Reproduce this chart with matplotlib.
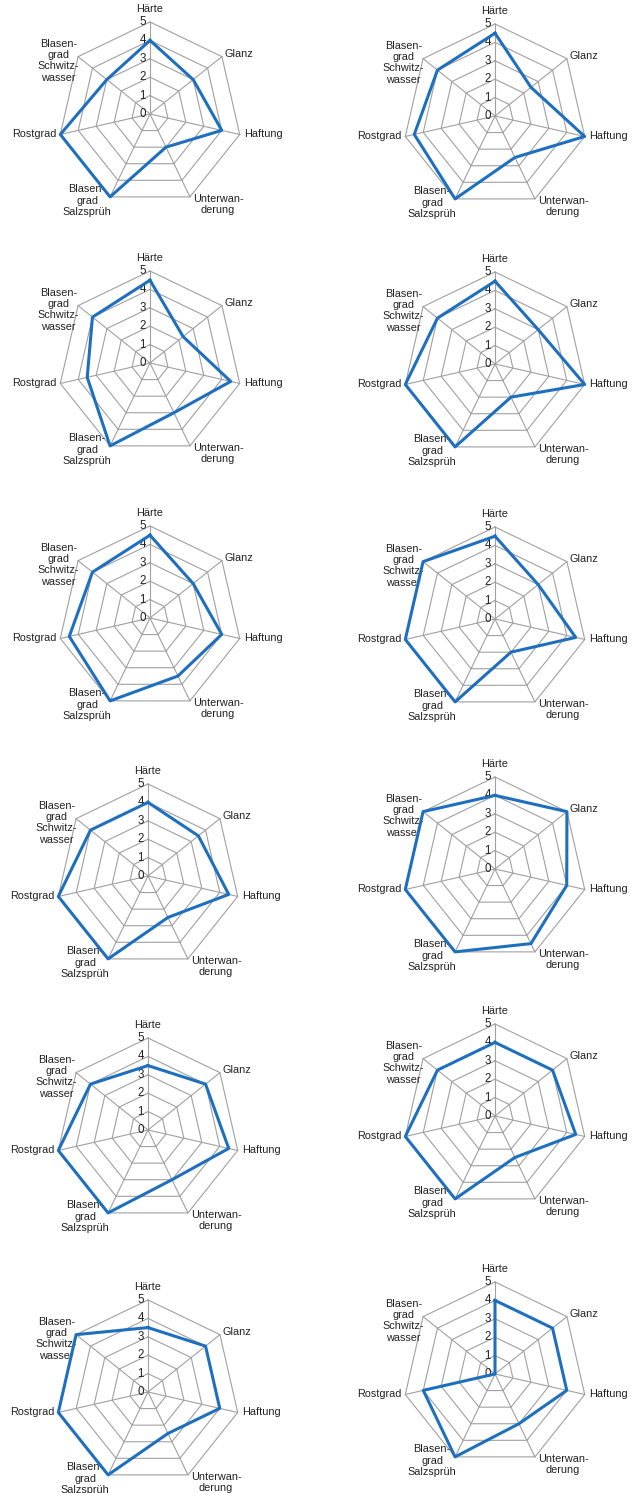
import numpy as np
import matplotlib
matplotlib.use('Agg')
import matplotlib.pyplot as plt

################################################################################

kriterien = ['Härte', 'Glanz', 'Haftung', 'Unterwan-\nderung',
             'Blasen-\ngrad\nSalzsprüh', 'Rostgrad', 'Blasen-\ngrad\nSchwitz-\nwasser']
skala = [0, 1, 2, 3, 4, 5]

probe_01 = [4.0, 3.0, 4.0, 2.0, 5.0, 5.0, 3.0]
probe_02 = [4.5, 2.5, 5.0, 2.5, 5.0, 4.5, 4.0]
probe_03 = [4.5, 2.3, 4.5, 3.0, 5.0, 3.5, 4.0]
probe_04 = [4.5, 3.0, 5.0, 2.0, 5.0, 5.0, 4.0]
probe_05 = [4.5, 3.0, 4.0, 3.5, 5.0, 4.5, 4.0]
probe_06 = [4.5, 3.0, 4.5, 2.0, 5.0, 5.0, 5.0]
probe_07 = [4.0, 3.5, 4.5, 2.5, 5.0, 5.0, 4.0]
probe_08 = [4.0, 5.0, 4.0, 4.5, 5.0, 5.0, 5.0]
probe_09 = [3.5, 4.0, 4.5, 3.0, 5.0, 5.0, 4.0]
probe_10 = [4.0, 4.0, 4.5, 2.5, 5.0, 5.0, 4.0]
probe_11 = [3.5, 4.0, 4.0, 2.5, 5.0, 5.0, 5.0]
probe_12 = [4.0, 4.0, 4.0, 3.0, 5.0, 4.0, 0.0]

proben = [probe_01, probe_02, probe_03, probe_04, probe_05, probe_06,
          probe_07, probe_08, probe_09, probe_10, probe_11, probe_12]

################################################################################

W, H = 636, 1493          # figure size in pixels
R = 92                    # radius of the outer ring in pixels
BLAU = '#1f6fbf'
GRAU = '#a0a0a0'
FS = 7.8

# chart centres in pixels (x from left, y from top)
mitten = [(150, 114), (495, 116), (150, 363), (495, 364), (150, 618), (495, 619),
          (148, 876), (495, 869), (148, 1130), (495, 1116), (148, 1392), (495, 1374)]

# label placement: offset in points, ha, va
lbl_opts = [((0, 6), 'center', 'bottom'),
            ((2, 2), 'left', 'center'),
            ((3, 0), 'left', 'center'),
            ((2, 2), 'left', 'top'),
            ((1, 9), 'right', 'top'),
            ((-3, 0), 'right', 'center'),
            ((1, -3), 'right', 'center')]

plt.rcParams['font.family'] = ['Liberation Sans', 'DejaVu Sans']

fig = plt.figure(figsize=(W / 100., H / 100.), dpi=100)

n = len(kriterien)
winkel = np.arange(n) * 2 * np.pi / n
winkel_zu = np.append(winkel, winkel[0])

for werte, (cx, cy) in zip(proben, mitten):
    ax = fig.add_axes([(cx - R) / W, (H - cy - R) / H, 2. * R / W, 2. * R / H],
                      projection='polar')
    ax.set_theta_zero_location('N')
    ax.set_theta_direction(-1)
    ax.set_ylim(0, 5)
    ax.axis('off')

    # heptagon grid
    for r in skala[1:]:
        ax.plot(winkel_zu, [r] * (n + 1), color=GRAU, lw=0.8, clip_on=False)
    for w in winkel:
        ax.plot([w, w], [0, 5], color=GRAU, lw=0.8, clip_on=False)

    # data
    ax.plot(winkel_zu, werte + [werte[0]], color=BLAU, lw=2.2, clip_on=False, zorder=5)

    # scale numbers
    for s in skala:
        ax.annotate(str(s), xy=(0, s), xytext=(-3, 0), textcoords='offset points',
                    ha='right', va='center', fontsize=FS + 0.5, color='#222222')

    # category labels
    for w, name, (off, ha, va) in zip(winkel, kriterien, lbl_opts):
        ax.annotate(name, xy=(w, 5), xytext=off, textcoords='offset points',
                    ha=ha, va=va, multialignment='center', fontsize=FS,
                    color='#222222', linespacing=1.15)

plt.savefig('out.png', dpi=100)
